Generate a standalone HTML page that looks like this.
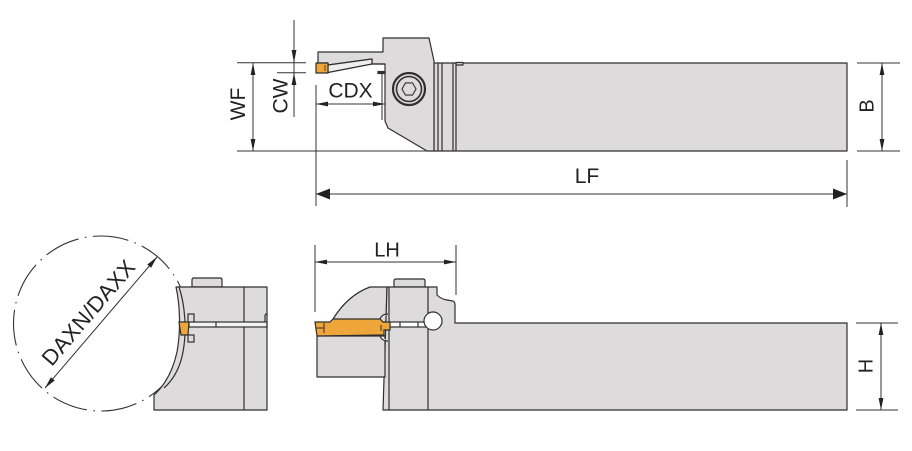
<!DOCTYPE html>
<html><head><meta charset="utf-8"><style>
html,body{margin:0;padding:0;background:#fff;}
svg{display:block;}
text{font-family:"Liberation Sans",sans-serif;fill:#222;}
</style></head><body>
<svg width="912" height="451" viewBox="0 0 912 451" xmlns="http://www.w3.org/2000/svg">
<g fill="#dddbdc" stroke="#2f2f2f" stroke-width="1.2" stroke-linejoin="round">
  <!-- TOP VIEW -->
  <rect x="434" y="63" width="413" height="88"/>
  <polygon points="318,52 383,52 383,38 429,38 434,61 434,151 427,151 388,128 385,121 385,64 372,64 372,59 328,65 328,63 318,63"/>
  <polygon points="328,65 372,59 372,64 328,72.5" fill="#efeeee"/>
  <rect x="316" y="63" width="12" height="10" fill="#eea53a"/>
  <rect x="456" y="62.5" width="7" height="2.5"/>
</g>
<g stroke="#2f2f2f" stroke-width="1.2" fill="none">
  <line x1="438" y1="63" x2="438" y2="151"/>
  <line x1="442" y1="63" x2="442" y2="151"/>
  <line x1="453" y1="63" x2="453" y2="151"/>
  <line x1="456" y1="63" x2="456" y2="151"/>
  <line x1="325" y1="65" x2="325" y2="71" stroke-width="0.8"/>
  <line x1="372" y1="64" x2="385" y2="64"/>
  <line x1="382" y1="72" x2="382" y2="120" stroke-width="1"/>
  <rect x="378" y="71.5" width="7" height="2" fill="#2f2f2f"/>
  <!-- screw -->
  <circle cx="409" cy="89" r="16" stroke-width="2.2" fill="#dddbdc"/>
  <circle cx="409" cy="89" r="12.5" stroke-width="1.6"/>
  <polygon points="416,89 412.5,95.1 405.5,95.1 402,89 405.5,82.9 412.5,82.9" stroke-width="1.1"/>
</g>

<!-- top view dimensions -->
<g stroke="#333" stroke-width="1" fill="#222">
  <!-- CW -->
  <line x1="294" y1="20" x2="294" y2="117"/>
  <line x1="237" y1="62.7" x2="306" y2="62.7"/>
  <line x1="277" y1="72.7" x2="306" y2="72.7"/>
  <polygon points="294,62.7 291.6,50 296.4,50" stroke="none"/>
  <polygon points="294,72.7 291.6,85 296.4,85" stroke="none"/>
  <!-- WF -->
  <line x1="253" y1="63" x2="253" y2="151"/>
  <line x1="237" y1="151" x2="427" y2="151"/>
  <polygon points="253,63 250.6,75 255.4,75" stroke="none"/>
  <polygon points="253,151 250.6,139 255.4,139" stroke="none"/>
  <!-- CDX -->
  <line x1="316" y1="85" x2="316" y2="206"/>
  <line x1="316" y1="104" x2="385" y2="104"/>
  <polygon points="316,104 328,101.6 328,106.4" stroke="none"/>
  <polygon points="385,104 373,101.6 373,106.4" stroke="none"/>
  <!-- LF -->
  <line x1="316" y1="194" x2="847" y2="194"/>
  <line x1="847" y1="160" x2="847" y2="207"/>
  <polygon points="316,194 330,188.5 330,199.5" stroke="none"/>
  <polygon points="847,194 833,188.5 833,199.5" stroke="none"/>
  <!-- B -->
  <line x1="857" y1="63" x2="900" y2="63"/>
  <line x1="857" y1="151" x2="900" y2="151"/>
  <line x1="882" y1="63" x2="882" y2="151"/>
  <polygon points="882,63 879.6,75 884.4,75" stroke="none"/>
  <polygon points="882,151 879.6,139 884.4,139" stroke="none"/>
</g>
<text x="350.5" y="97.5" font-size="21" text-anchor="middle">CDX</text>
<text x="587" y="183" font-size="21" text-anchor="middle">LF</text>
<text transform="translate(280,96) rotate(-90)" x="0" y="7.5" font-size="21" text-anchor="middle">CW</text>
<text transform="translate(237.5,104) rotate(-90)" x="0" y="7.5" font-size="21" text-anchor="middle">WF</text>
<text transform="translate(866,106) rotate(-90)" x="0" y="7.5" font-size="20" text-anchor="middle">B</text>

<!-- SIDE VIEW -->
<g fill="#dddbdc" stroke="#2f2f2f" stroke-width="1.2" stroke-linejoin="round">
  <path d="M394,287 L394,281 Q394,279 396,279 L423,279 Q425,279 425,281 L425,287 Z"/>
  <path d="M333,319 Q348,295 370,287 L387,287 L386,322 L333,322 Z"/>
  <path d="M387,287 L437,287 L437,295 Q441,299 447,300 L453,301 Q455,302 455,305 L455,323 L847,323 L847,410 L383,410 Z"/>
  <rect x="317" y="336" width="68" height="41"/>
</g>
<g stroke="#2f2f2f" stroke-width="1.2" fill="none">
  <line x1="389" y1="287" x2="389" y2="410"/>
  <line x1="428" y1="287" x2="428" y2="410"/>
  <path d="M380,319 Q382,314 388,314" fill="#fff"/>
  <path d="M380,336 Q382,341 388,341" fill="#fff"/>
</g>
<g stroke="#2f2f2f" stroke-width="1.2">
  <rect x="389" y="322" width="38" height="5" fill="#fff"/>
  <line x1="400" y1="322" x2="400" y2="327"/>
  <line x1="418" y1="322" x2="418" y2="327"/>
  <circle cx="433" cy="321" r="9" fill="#fff"/>
  <polygon points="315,322 330,322 333,319 380,319 383,322 390,322 390,330 384,330 384,335 317,336" fill="#eea53a"/>
  <line x1="316" y1="328" x2="324" y2="328" stroke-width="1"/>
  <line x1="324" y1="323" x2="324" y2="333" stroke-width="1"/>
  <line x1="381" y1="325" x2="381" y2="331" stroke-width="1"/>
</g>
<!-- LH / H dims -->
<g stroke="#333" stroke-width="1" fill="#222">
  <line x1="315" y1="245" x2="315" y2="312"/>
  <line x1="456" y1="245" x2="456" y2="295"/>
  <line x1="315" y1="262" x2="456" y2="262"/>
  <polygon points="315,262 327,259.6 327,264.4" stroke="none"/>
  <polygon points="456,262 444,259.6 444,264.4" stroke="none"/>
  <line x1="856" y1="323" x2="898" y2="323"/>
  <line x1="856" y1="410" x2="898" y2="410"/>
  <line x1="881" y1="323" x2="881" y2="410"/>
  <polygon points="881,323 878.6,335 883.4,335" stroke="none"/>
  <polygon points="881,410 878.6,398 883.4,398" stroke="none"/>
</g>
<text x="387" y="256.5" font-size="20" text-anchor="middle">LH</text>
<text transform="translate(865,366) rotate(-90)" x="0" y="7.5" font-size="20" text-anchor="middle">H</text>

<!-- END VIEW -->
<circle cx="101" cy="323.5" r="87.5" fill="none" stroke="#333" stroke-width="1.1" stroke-dasharray="36 6.5 1.5 6.5"/>
<g fill="#dddbdc" stroke="#2f2f2f" stroke-width="1.2" stroke-linejoin="round">
  <path d="M192,287 L192,280 Q192,278 194,278 L220,278 Q222,278 222,280 L222,287 Z"/>
  <path d="M176,287 L267,287 L267,410 L154,410 L154,395 C165,385 173,370 177,352 C181,330 180,305 176,287 Z"/>
</g>
<g stroke="#2f2f2f" stroke-width="1.2" fill="none">
  <path d="M179,287 C185,305 187,330 183,352 C180,368 173,380 164,388"/>
  <line x1="244" y1="287" x2="244" y2="410"/>
  <rect x="189" y="322" width="78" height="5" fill="#f3f3f3"/>
  <line x1="216" y1="322" x2="216" y2="327"/>
  <path d="M265,322 L265,316 Q265,314 267,314"/>
  <rect x="188" y="314" width="6" height="8" fill="#dddbdc"/>
  <rect x="188" y="335" width="6" height="7" fill="#dddbdc"/>
  <polygon points="179,322 189,322 188,335 181,335" fill="#eea53a"/>
</g>
<g stroke="#333" stroke-width="1" fill="#222">
  <line x1="45" y1="388" x2="157" y2="257"/>
  <polygon points="157,257 151.1,267.7 147.3,264.5" stroke="none"/>
  <polygon points="45,388 54.7,380.5 50.9,377.3" stroke="none"/>
</g>
<text transform="translate(88.5,312.5) rotate(-49.5)" x="0" y="7.5" font-size="22" text-anchor="middle" letter-spacing="0.4">DAXN/DAXX</text>
</svg>
</body></html>
